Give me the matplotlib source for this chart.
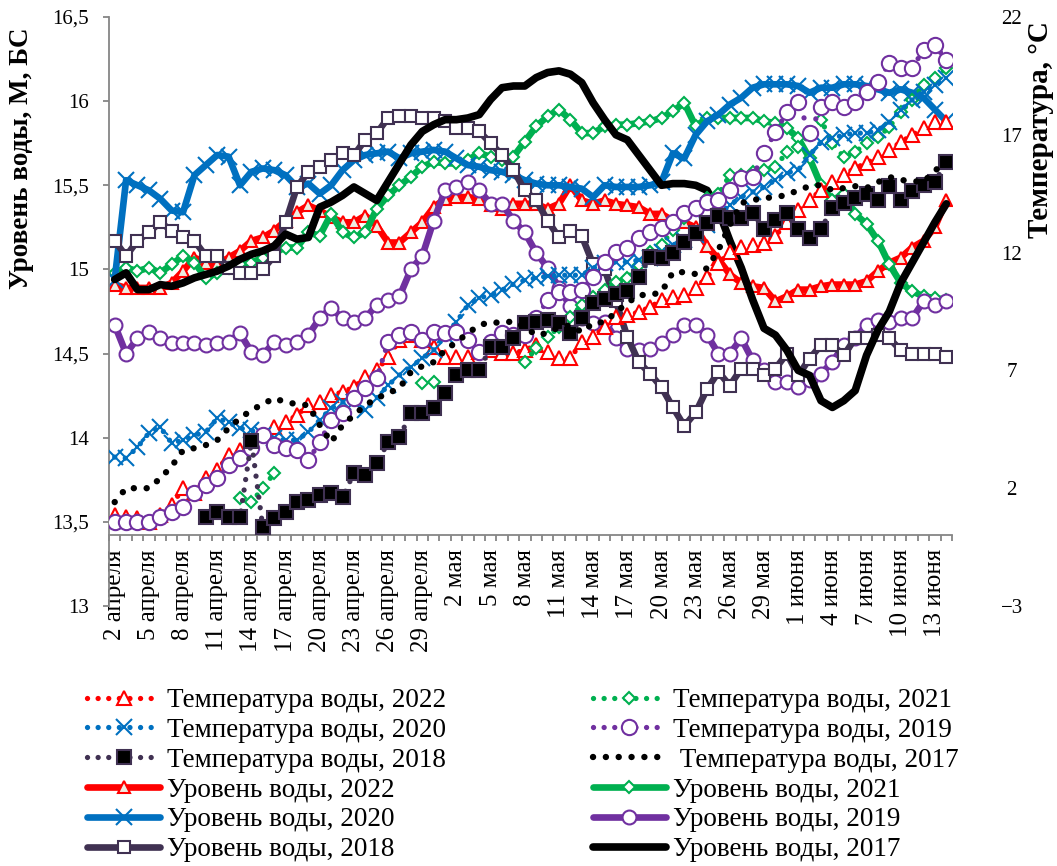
import numpy as np
import matplotlib
matplotlib.use("Agg")
import matplotlib.pyplot as plt

plt.rcParams['font.family'] = ['Liberation Serif', 'DejaVu Serif']

nan = np.nan

# categories: 2 April .. 14 June
dates = ([f"{d} апреля" for d in range(2, 31)] +
         [f"{d} мая" for d in range(1, 32)] +
         [f"{d} июня" for d in range(1, 15)])

# water level, m BS (left axis)
level_2022 = [14.91, 14.89, 14.89, 14.89, 14.89, 14.92, 14.99, 15.07, 15.04, 15.03,
              15.07, 15.11, 15.17, 15.19, 15.23, 15.29, 15.34, 15.38, 15.35, 15.31,
              15.28, 15.28, 15.32, 15.26, 15.16, 15.16, 15.22, 15.28, 15.37, 15.42,
              15.43, 15.43, 15.42, 15.38, 15.36, 15.39, 15.39, 15.39, 15.36, 15.39,
              15.50, 15.41, 15.39, 15.41, 15.39, 15.38, 15.37, 15.33, 15.33, 15.29,
              15.28, 15.25, 15.14, 15.06, 14.97, 14.92, 14.90, 14.89, 14.81, 14.84,
              14.88, 14.88, 14.90, 14.91, 14.91, 14.91, 14.93, 14.99, 15.04, 15.07,
              15.13, 15.17, 15.25, 15.41]
level_2021 = [14.98, 15.01, 14.99, 15.01, 14.98, 15.03, 15.08, 15.04, 14.95, 14.98,
              15.01, 15.03, 15.04, 15.07, 15.10, 15.13, 15.13, 15.22, 15.20, 15.33,
              15.22, 15.19, 15.22, 15.36, 15.44, 15.50, 15.55, 15.61, 15.64, 15.63,
              15.63, 15.65, 15.69, 15.67, 15.65, 15.67, 15.76, 15.85, 15.91, 15.95,
              15.89, 15.81, 15.81, 15.85, 15.86, 15.86, 15.87, 15.88, 15.90, 15.94,
              15.99, 15.85, 15.90, 15.90, 15.90, 15.90, 15.90, 15.88, 15.87, 15.84,
              15.78, 15.66, 15.50, 15.41, 15.45, 15.33, 15.27, 15.17, 15.03, 14.92,
              14.87, 14.84, 14.83, 14.82]
level_2020 = [14.94, 15.53, 15.50, 15.47, 15.42, 15.35, 15.34, 15.56, 15.62, 15.68,
              15.67, 15.50, 15.58, 15.60, 15.59, 15.56, 15.49, 15.51, 15.45, 15.50,
              15.59, 15.65, 15.68, 15.69, 15.70, 15.66, 15.69, 15.70, 15.71, 15.70,
              15.66, 15.62, 15.61, 15.59, 15.58, 15.56, 15.53, 15.51, 15.50, 15.50,
              15.49, 15.48, 15.43, 15.50, 15.49, 15.49, 15.49, 15.50, 15.52, 15.69,
              15.66, 15.80, 15.88, 15.92, 15.98, 16.02, 16.08, 16.10, 16.10, 16.10,
              16.09, 16.05, 16.08, 16.08, 16.10, 16.10, 16.09, 16.07, 16.05, 16.07,
              16.05, 16.02, 15.95, 15.88]
level_2019 = [14.67, 14.50, 14.59, 14.63, 14.59, 14.56, 14.56, 14.56, 14.55, 14.56,
              14.57, 14.62, 14.51, 14.49, 14.57, 14.55, 14.57, 14.61, 14.71, 14.77,
              14.71, 14.69, 14.71, 14.79, 14.82, 14.84, 15.00, 15.08, 15.29, 15.47,
              15.49, 15.52, 15.47, 15.39, 15.39, 15.29, 15.22, 15.10, 15.01, 14.89,
              14.78, 14.71, 14.68, 14.69, 14.59, 14.53, 14.52, 14.53, 14.56, 14.61,
              14.67, 14.67, 14.61, 14.50, 14.50, 14.59, 14.46, 14.40, 14.33, 14.33,
              14.30, 14.34, 14.38, 14.45, 14.55, 14.59, 14.67, 14.70, 14.69, 14.71,
              14.71, 14.81, 14.79, 14.81]
level_2018 = [15.17, 15.08, 15.17, 15.22, 15.28, 15.23, 15.19, 15.17, 15.08, 15.08,
              15.01, 14.98, 14.98, 15.00, 15.08, 15.28, 15.49, 15.58, 15.61, 15.65,
              15.69, 15.68, 15.77, 15.81, 15.90, 15.91, 15.91, 15.90, 15.90, 15.88,
              15.84, 15.84, 15.82, 15.75, 15.68, 15.59, 15.47, 15.41, 15.29, 15.19,
              15.23, 15.20, 15.03, 15.00, 14.81, 14.60, 14.45, 14.38, 14.30, 14.18,
              14.07, 14.15, 14.29, 14.39, 14.31, 14.41, 14.41, 14.37, 14.41, 14.50,
              14.37, 14.47, 14.55, 14.55, 14.49, 14.59, 14.59, 14.61, 14.59, 14.52,
              14.50, 14.50, 14.50, 14.48]
level_2017 = [14.94, 14.98, 14.88, 14.88, 14.91, 14.90, 14.92, 14.95, 14.97, 14.99,
              15.02, 15.06, 15.09, 15.11, 15.14, 15.21, 15.18, 15.19, 15.37, 15.40,
              15.44, 15.49, 15.45, 15.41, 15.52, 15.63, 15.74, 15.82, 15.86, 15.89,
              15.89, 15.90, 15.92, 16.01, 16.08, 16.09, 16.09, 16.14, 16.17, 16.18,
              16.16, 16.11, 15.99, 15.89, 15.80, 15.77, 15.68, 15.59, 15.50, 15.51,
              15.51, 15.50, 15.47, 15.35, 15.17, 15.01, 14.82, 14.65, 14.61, 14.52,
              14.40, 14.37, 14.22, 14.18, 14.22, 14.28, 14.49, 14.64, 14.75, 14.92,
              15.04, 15.16, 15.28, 15.39]

# water temperature, °C (right axis)
temp_2022 = [0.85, 0.77, 0.73, 0.56, 0.85, 1.28, 2.00, 1.79, 2.42, 2.76,
             3.40, 3.61, 3.95, 4.25, 4.59, 4.80, 5.10, 5.52, 5.65, 5.95,
             6.08, 6.29, 6.71, 7.01, 7.56, 8.28, 8.50, 8.28, 7.99, 7.56,
             7.56, 7.56, 7.78, 7.86, 7.73, 7.73, 7.86, 8.07, 7.78, 7.52,
             7.52, 8.20, 8.41, 8.84, 9.26, 9.35, 9.47, 9.69, 9.98, 10.11,
             10.20, 10.49, 10.96, 11.55, 12.02, 12.23, 12.32, 12.40, 12.70, 13.30,
             13.80, 14.23, 14.65, 14.99, 15.29, 15.59, 15.80, 16.06, 16.35, 16.69,
             16.99, 17.29, 17.54, 17.54]
temp_2021 = [nan, nan, nan, nan, nan, nan, nan, nan, nan, nan,
             nan, 1.58, 1.41, 2.00, 2.64, nan, nan, nan, nan, nan,
             nan, nan, nan, nan, nan, nan, nan, 6.46, 6.50, nan,
             nan, nan, nan, nan, nan, nan, 7.35, 7.94, 8.41, 8.84,
             9.26, 9.77, 10.11, 10.41, 10.75, 10.92, 11.47, 12.02, 12.32, 12.96,
             13.47, 13.80, 14.31, 14.48, 15.29, 15.29, 15.42, 15.50, 15.63, 16.27,
             16.48, 16.99, 17.63, 16.65, 16.06, 16.27, 16.65, 16.90, 17.33, 17.97,
             18.48, 19.11, 19.41, 19.83]
temp_2020 = [3.32, 3.27, 3.74, 4.34, 4.59, 3.91, 4.04, 4.25, 4.38, 4.97,
             4.80, 4.55, 4.46, 4.25, 4.12, 4.04, 4.04, 4.38, 4.89, 5.40,
             5.65, 5.65, 5.31, 5.82, 6.37, 6.80, 7.14, 7.52, 7.86, 8.50,
             9.05, 9.77, 10.07, 10.20, 10.41, 10.66, 10.83, 10.92, 11.00, 11.04,
             11.04, 11.04, 11.34, 11.55, 11.60, 11.60, 11.68, 11.77, 12.02, 12.32,
             12.53, 12.74, 13.17, 13.59, 14.02, 14.36, 14.57, 14.78, 15.08, 15.38,
             15.50, 16.14, 16.69, 16.86, 16.99, 17.07, 17.07, 17.20, 17.54, 18.05,
             18.48, 18.82, 19.11, 19.41]
temp_2019 = [0.56, 0.56, 0.56, 0.56, 0.77, 0.98, 1.19, 1.79, 2.13, 2.42,
             2.98, 3.27, 3.70, 4.25, 3.83, 3.70, 3.61, 3.19, 3.95, 4.89,
             5.18, 5.82, 6.25, 6.67, 8.20, 8.50, 8.62, 8.28, 8.62, 8.58,
             8.62, 8.28, 7.78, 8.20, 8.58, 8.50, 8.50, 9.22, 9.98, 10.32,
             10.32, 10.41, 10.96, 11.60, 12.02, 12.19, 12.62, 12.87, 13.04, 13.30,
             13.68, 13.89, 14.14, 14.23, 14.65, 15.16, 15.21, 16.23, 17.12, 17.97,
             18.39, 17.07, 18.18, 18.39, 18.18, 18.39, 18.82, 19.24, 20.05, 19.83,
             19.83, 20.60, 20.81, 20.17]
temp_2018 = [nan, nan, nan, nan, nan, nan, nan, nan, 0.77, 0.98,
             0.77, 0.77, 4.00, 0.34, 0.73, 0.98, 1.41, 1.49, 1.70, 1.79,
             1.62, 2.64, 2.55, 3.06, 3.95, 4.17, 5.18, 5.18, 5.40, 6.03,
             6.80, 7.01, 7.01, 7.99, 7.99, 8.37, 9.01, 9.05, 9.13, 9.01,
             8.58, 9.22, 9.86, 10.03, 10.24, 10.37, 10.96, 11.81, 11.77, 11.98,
             12.45, 12.83, 13.25, 13.55, 13.46, 13.46, 13.68, 13.00, 13.38, 13.68,
             13.00, 12.62, 13.00, 13.89, 14.10, 14.31, 14.48, 14.23, 14.82, 14.23,
             14.61, 14.87, 14.99, 15.84]
temp_2017 = [1.41, 2.00, 2.00, 2.00, 2.42, 2.93, 3.61, 3.70, 3.83, 4.04,
             4.55, 4.97, 5.31, 5.57, 5.82, 5.65, 5.57, 5.52, 4.68, 3.95,
             4.68, 5.10, 5.52, 5.82, 6.03, 6.25, 6.93, 7.18, 7.35, 7.86,
             8.20, 8.58, 8.92, 9.05, 9.01, 9.09, 8.84, 8.50, 8.58, 8.84,
             8.92, 8.62, 9.01, 9.05, 9.47, 9.86, 10.20, 10.20, 10.32, 11.17,
             11.17, 11.09, 11.34, 12.11, 13.17, 14.10, 14.23, 14.31, 14.36, 14.44,
             14.65, 14.82, 14.87, 14.65, 14.74, 14.82, 14.74, 14.99, 15.21, 15.08,
             15.04, 14.99, 15.50, 15.72]

left_ticks = [13, 13.5, 14, 14.5, 15, 15.5, 16, 16.5]
left_labels = ["13", "13,5", "14", "14,5", "15", "15,5", "16", "16,5"]
right_ticks = [-3, 2, 7, 12, 17, 22]

RED, GREEN, BLUE, PURPLE, DARK = "#FF0000", "#00B050", "#0070C0", "#7030A0", "#403152"
GREY = "#868686"
DOT = (0, (0.01, 2.0))

x = np.arange(len(dates))

fig = plt.figure(figsize=(10.57, 8.66), dpi=100)
ax = fig.add_axes([109 / 1057, 1 - 606 / 866, 843 / 1057, 589 / 866])
ax2 = ax.twinx()


def level(y, color, marker=None, ms=8, mfc="white", lw=4.8, label=""):
    return ax.plot(x, y, color=color, lw=lw, marker=marker, ms=ms, mfc=mfc,
                   mec=color, mew=1.5, solid_capstyle="round",
                   solid_joinstyle="round", label=label)[0]


def temp(y, color, marker=None, ms=9, mfc="white", mec=None, lw=3.8, label=""):
    return ax2.plot(x, y, color=color, lw=lw, ls=DOT, dash_capstyle="round",
                    marker=marker, ms=ms, mfc=mfc, mec=mec or color, mew=1.5,
                    label=label)[0]


L22 = level(level_2022, RED, "^", 8, "#EEECE1", label="Уровень воды, 2022")
L21 = level(level_2021, GREEN, "D", 6.3, label="Уровень воды, 2021")
L20 = level(level_2020, BLUE, "x", 11, label="Уровень воды, 2020")
L19 = level(level_2019, PURPLE, "o", 10, label="Уровень воды, 2019")
L18 = level(level_2018, DARK, "s", 8.5, label="Уровень воды, 2018")
L17 = level(level_2017, "black", None, lw=5.5, label="Уровень воды, 2017")

T22 = temp(temp_2022, RED, "^", 9.5, label="Температура воды, 2022")
T21 = temp(temp_2021, GREEN, "D", 6.5, label="Температура воды, 2021")
T20 = temp(temp_2020, BLUE, "x", 11, label="Температура воды, 2020")
T19 = temp(temp_2019, PURPLE, "o", 11, label="Температура воды, 2019")
T18 = temp(temp_2018, DARK, "s", 10, mfc="black", mec=DARK, label="Температура воды, 2018")
T17 = temp(temp_2017, "black", None, lw=4.6, label=" Температура воды, 2017")

# axes cosmetics
ax.set_xlim(-0.5, len(dates) - 0.5)
ax.set_ylim(13, 16.5)
ax2.set_ylim(-3, 22)

for s in ("top", "right"):
    ax.spines[s].set_visible(False)
for s in ax2.spines.values():
    s.set_visible(False)
ax.spines["left"].set_color(GREY)
ax.spines["left"].set_linewidth(1.3)
# category axis crosses the temperature axis at 0
ax.spines["bottom"].set_position(("axes", 3 / 25))
ax.spines["bottom"].set_color(GREY)
ax.spines["bottom"].set_linewidth(1.3)

ax.set_yticks(left_ticks)
ax.set_yticklabels(left_labels)
ax.tick_params(axis="y", direction="out", length=4.5, width=1.3, color=GREY,
               labelsize=15, pad=10)

ax.set_xticks(x[::3])
ax.set_xticklabels(dates[::3], rotation=90, fontsize=18)
ax.set_xticks(np.arange(-0.5, len(dates)), minor=True)
ax.tick_params(axis="x", which="major", length=0, pad=10)
ax.tick_params(axis="x", which="minor", direction="out", length=4.5, width=1.3, color=GREY)

ax2.set_yticks(right_ticks)
ax2.tick_params(axis="y", length=0, labelsize=15, pad=43)
for t in ax2.get_yticklabels():
    t.set_horizontalalignment("center")

fig.text(22 / 1057, 1 - 158 / 866, "Уровень воды, М, БС", rotation=90,
         ha="center", va="center", fontsize=19.5, fontweight="bold")
fig.text(1040 / 1057, 1 - 130 / 866, "Температура, °С", rotation=90,
         ha="center", va="center", fontsize=21, fontweight="bold")

handles = [T22, T20, T18, L22, L20, L18, T21, T19, T17, L21, L19, L17]
fig.legend(handles=handles, labels=[h.get_label() for h in handles], ncol=2,
           loc="upper left", bbox_to_anchor=(87 / 1057, 1 - 688 / 866),
           frameon=False, fontsize=19.5, handlelength=2.7, handletextpad=0.27,
           columnspacing=5.4, labelspacing=0.18, borderaxespad=0, borderpad=0,
           numpoints=1)

fig.savefig("out.png", dpi=100)
